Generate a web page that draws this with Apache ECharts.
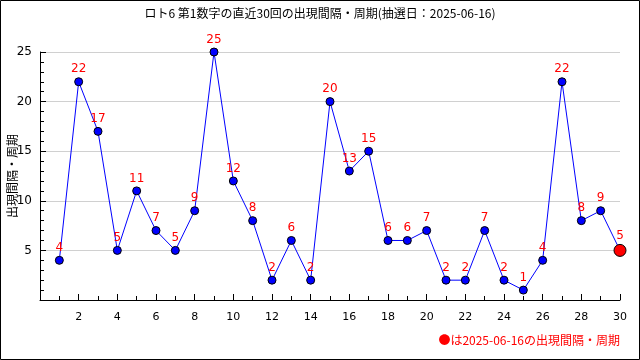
<!DOCTYPE html>
<html><head><meta charset="utf-8">
<script src="https://cdn.jsdelivr.net/npm/echarts@6/dist/echarts.min.js"></script>
<style>html,body{margin:0;padding:0;background:#fff}#c{width:640px;height:360px}</style>
</head><body><div id="c"></div>
<script>
const draws = [1,2,3,4,5,6,7,8,9,10,11,12,13,14,15,16,17,18,19,20,21,22,23,24,25,26,27,28,29,30];
const intervals = [4,22,17,5,11,7,5,9,25,12,8,2,6,2,20,13,15,6,6,7,2,2,7,2,1,4,22,8,9,5];
const titleText = 'ロト6 第1数字の直近30回の出現間隔・周期(抽選日：2025-06-16)';
const yName = '出現間隔・周期';
const noteText = '●は2025-06-16の出現間隔・周期';

const chart = echarts.init(document.getElementById('c'), null, {renderer:'canvas'});
const font = '"Noto Sans CJK JP", "DejaVu Sans", sans-serif';
const pts = draws.map((d,i)=>({
  value:[d, intervals[i]],
  symbolSize: i===draws.length-1 ? 12 : 8,
  itemStyle: i===draws.length-1 ? {color:'#ff0000', borderColor:'#000', borderWidth:1} : undefined
}));
chart.setOption({
  animation:false,
  backgroundColor:'#fff',
  textStyle:{fontFamily:font},
  title:{text:titleText, left:'center', top:2, textStyle:{fontSize:12, fontWeight:'normal', color:'#000', fontFamily:font}},
  grid:{left:40, right:20, top:52, bottom:60, containLabel:false, outerBoundsMode:'none'},
  xAxis:{type:'value', min:0, max:30, interval:2,
    axisLine:{show:true, lineStyle:{color:'#000', width:1}},
    axisTick:{show:true, inside:true, length:6, lineStyle:{color:'#000'}},
    minorTick:{show:true, splitNumber:2, length:4, lineStyle:{color:'#000'}},
    splitLine:{show:false},
    axisLabel:{color:'#000', fontSize:11, margin:12, fontFamily:'"DejaVu Sans", sans-serif',
      formatter:v=> v===0 ? '' : String(v)}
  },
  yAxis:{type:'value', min:0, max:25, interval:5,
    axisLine:{show:true, lineStyle:{color:'#000', width:1}},
    axisTick:{show:true, inside:true, length:6, lineStyle:{color:'#000'}},
    minorTick:{show:true, splitNumber:5, length:4, lineStyle:{color:'#000'}},
    splitLine:{show:true, lineStyle:{color:'#d0d0d0', width:1}},
    axisLabel:{color:'#000', fontSize:12, margin:8, fontFamily:'"DejaVu Sans", sans-serif',
      formatter:v=> v===0 ? '' : String(v)}
  },
  series:[{
    type:'line', data:pts, symbol:'circle',
    lineStyle:{color:'#0000ff', width:1},
    itemStyle:{color:'#0000ff', borderColor:'#000', borderWidth:1},
    label:{show:true, position:'top', distance:2, color:'#ff0000', fontSize:12, fontFamily:'"DejaVu Sans", sans-serif',
      formatter:p=>String(p.value[1])},
    z:3
  }],
  graphic:[
    {type:'rect', shape:{x:0.5,y:0.5,width:639,height:359}, style:{fill:'none', stroke:'#000', lineWidth:1}, silent:true},
    {type:'text', x:12, y:176, rotation:Math.PI/2, style:{text:yName, fill:'#000', font:'12px '+font, align:'center', verticalAlign:'middle'}},
    {type:'text', right:20, top:334, style:{text:noteText, fill:'#ff0000', font:'12px '+font}}
  ]
});
</script></body></html>
